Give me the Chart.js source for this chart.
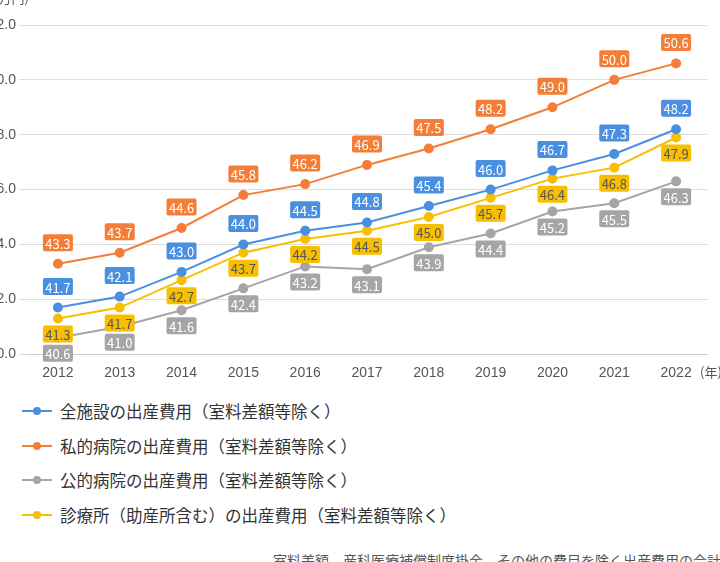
<!DOCTYPE html>
<html><head><meta charset="utf-8">
<script src="https://cdn.jsdelivr.net/npm/chart.js@4"></script>
<style>
body{margin:0;width:720px;height:562px;overflow:hidden;background:#fff;font-family:"Noto Sans CJK JP",sans-serif;position:relative}
#wrap{position:absolute;left:-45px;top:0;width:800px;height:385px}
#unit{position:absolute;left:-6px;top:-12px;font-size:13px;color:#555}
#yr{position:absolute;left:700px;top:362px;font-size:13px;color:#555}
.leg{position:absolute;left:22px;font-size:16.5px;color:#333;display:flex;align-items:center}
.mk{width:30px;height:2px;position:relative;margin-right:8px}
.mk:after{content:"";position:absolute;left:11px;top:-3px;width:8px;height:8px;border-radius:50%;background:inherit}
#note{position:absolute;left:273px;top:550px;font-size:14px;color:#555;white-space:nowrap}
</style></head><body>
<div id="wrap"><canvas id="c"></canvas></div>
<div id="unit">(万円)</div>
<div id="yr">(年)</div>
<div id="legend"></div>
<div id="note">室料差額、産科医療補償制度掛金、その他の費目を除く出産費用の合計</div>
<script>
const years = ['2012','2013','2014','2015','2016','2017','2018','2019','2020','2021','2022'];
const allFacilities = [41.7,42.1,43.0,44.0,44.5,44.8,45.4,46.0,46.7,47.3,48.2];
const privateHosp = [43.3,43.7,44.6,45.8,46.2,46.9,47.5,48.2,49.0,50.0,50.6];
const publicHosp = [40.6,41.0,41.6,42.4,43.2,43.1,43.9,44.4,45.2,45.5,46.3];
const clinics = [41.3,41.7,42.7,43.7,44.2,44.5,45.0,45.7,46.4,46.8,47.9];

const series = [
  {label:'全施設の出産費用（室料差額等除く）', data:allFacilities, color:'#4a8fe0', pos:'above'},
  {label:'私的病院の出産費用（室料差額等除く）', data:privateHosp, color:'#f47e37', pos:'above'},
  {label:'公的病院の出産費用（室料差額等除く）', data:publicHosp, color:'#a5a5a5', pos:'below'},
  {label:'診療所（助産所含む）の出産費用（室料差額等除く）', data:clinics, color:'#f8bf00', pos:'below'}
];

// 値ラベル（角丸ボックス）
const valueLabels = {
  id:'valueLabels',
  afterDatasetsDraw(chart){
    const ctx = chart.ctx;
    ctx.save();
    ctx.font = '13px "Noto Sans CJK JP", sans-serif';
    ctx.textAlign = 'center'; ctx.textBaseline = 'middle';
    chart.data.datasets.forEach((ds, i) => {
      const s = series[i];
      chart.getDatasetMeta(i).data.forEach((pt, j) => {
        const t = ds.data[j].toFixed(1);
        const w = 30, h = 17;
        const cy = s.pos === 'above' ? pt.y - 21 : pt.y + 8 + h/2 - 1;
        ctx.fillStyle = s.color;
        ctx.beginPath();
        ctx.roundRect(pt.x - w/2, cy - h/2, w, h, 2);
        ctx.fill();
        ctx.fillStyle = i === 3 ? '#555' : '#fff';
        ctx.fillText(t, pt.x, cy + 1);
      });
    });
    ctx.restore();
  }
};

new Chart(document.getElementById('c'), {
  type:'line',
  data:{
    labels: years,
    datasets: series.map(s => ({
      label:s.label, data:s.data, borderColor:s.color, backgroundColor:s.color,
      borderWidth:2, pointRadius:4, pointHoverRadius:4, tension:0
    }))
  },
  options:{
    responsive:true, maintainAspectRatio:false, animation:false,
    layout:{padding:{top:25,right:48}},
    plugins:{legend:{display:false}, tooltip:{enabled:false}},
    scales:{
      y:{min:40, max:52, ticks:{stepSize:2, color:'#555', font:{size:14}, callback:v => v.toFixed(1)},
         grid:{color:'#ddd'}, border:{display:false},
         afterFit(a){ a.width = 72; }},
      x:{offset:true, ticks:{color:'#555', font:{size:14}}, grid:{display:false}, border:{color:'#ccc'}}
    }
  },
  plugins:[valueLabels]
});

const legend = document.getElementById('legend');
series.forEach((s, i) => {
  const d = document.createElement('div');
  d.className = 'leg';
  d.style.top = (399 + i * 34.7) + 'px';
  d.innerHTML = `<span class="mk" style="background:${s.color}"></span>${s.label}`;
  legend.appendChild(d);
});
</script>
</body></html>
